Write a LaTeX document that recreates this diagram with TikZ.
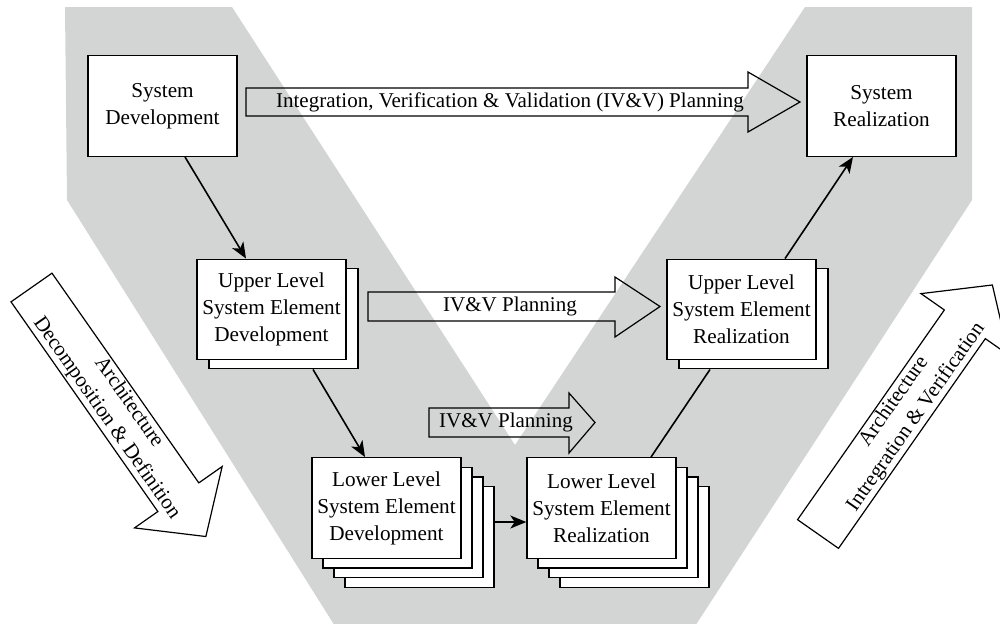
\documentclass[tikz,border=0pt]{standalone}
\usepackage{fontspec}
\setmainfont{Liberation Serif}
\usetikzlibrary{arrows.meta,calc}
\definecolor{vband}{RGB}{211,212,212}
\begin{document}
\begin{tikzpicture}[x=0.5pt,y=-0.5pt,
  box/.style={draw=black, fill=white, line width=0.7pt, minimum width=74.5pt,
    minimum height=50.25pt, inner sep=0pt, align=center,
    font=\fontsize{10.6}{13.5}\selectfont},
  conn/.style={line width=0.8pt, -{Stealth[length=8pt,width=6.5pt,inset=2.2pt]}},
  plainline/.style={line width=0.8pt},
  blockarrow/.style={draw=black, line width=0.6pt},
  lbl/.style={font=\fontsize{10.5}{13.5}\selectfont, align=center, inner sep=0pt}]
\useasboundingbox (0,0) rectangle (1000,623);
\clip (0,0) rectangle (1000,623);

% grey V band
\fill[vband] (65,7) -- (232,7) -- (515,445) -- (805,7) -- (972,7) -- (972,200)
  -- (679.5,650) -- (350,650) -- (67,200) -- cycle;

% IV&V planning block arrows (outline only)
\draw[blockarrow] (246,88) -- (748,88) -- (748,72) -- (800,102) -- (748,132)
  -- (748,116) -- (246,116) -- cycle;
\node[lbl] (ivvtop) at (510,102) {Integration, Verification \& Validation (IV\&V) Planning};

\draw[blockarrow] (368,292) -- (615,292) -- (615,277) -- (660,306.5) -- (615,337)
  -- (615,321) -- (368,321) -- cycle;
\node[lbl] (ivvmid) at (510,306.5) {IV\&V Planning};

\draw[blockarrow] (429,408) -- (569,408) -- (569,393) -- (595,422.5) -- (569,453)
  -- (569,437) -- (429,437) -- cycle;
\node[lbl] (ivvlow) at (506,422.5) {IV\&V Planning};

% decomposition arrow (left)
\begin{scope}[shift={(31.5,287.5)}, rotate=-55]
  \draw[blockarrow, fill=white] (0,-25) -- (256,-25) -- (256,-53.5) -- (304,0)
    -- (256,53.5) -- (256,25) -- (0,25) -- cycle;
  \node[lbl, transform shape] (decomp) at (150,0) {Architecture\\Decomposition \& Definition};
\end{scope}

% integration arrow (right)
\begin{scope}[shift={(818,534)}, rotate=55]
  \draw[blockarrow, fill=white] (0,-25) -- (256,-25) -- (256,-53.5) -- (304,0)
    -- (256,53.5) -- (256,25) -- (0,25) -- cycle;
  \node[lbl, transform shape] (integ) at (152,0) {Architecture\\Intregration \& Verification};
\end{scope}

% system level
\node[box] (sd) at (162.5,106) {System\\Development};
\node[box] (sr) at (881.5,106) {System\\Realization};

% upper level stacks
\node[box] (ud1) at (283.5,318.5) {};
\node[box] (ud) at (271.5,309.5) {Upper Level\\System Element\\Development};
\node[box] (ur1) at (753.5,318.5) {};
\node[box] (ur) at (741.5,309.5) {Upper Level\\System Element\\Realization};

% lower level stacks
\node[box] (ld3) at (419.5,537) {};
\node[box] (ld2) at (408.5,527.3) {};
\node[box] (ld1) at (397.5,517.6) {};
\node[box] (ld) at (386.5,508) {Lower Level\\System Element\\Development};
\node[box] (lr3) at (634.5,537) {};
\node[box] (lr2) at (623.5,527.3) {};
\node[box] (lr1) at (612.5,517.6) {};
\node[box] (lr) at (601.5,508) {Lower Level\\System Element\\Realization};

% flow connectors
\coordinate (lrin) at ($(lr.west)+(0,14)$);
\draw[conn] ($(sd.south)+(22.5,0)$) -- ($(ud.north)+(-25.5,0)$);
\draw[conn] ($(ud1.south)+(29.5,0)$) -- ($(ld.north)+(-21.5,0)$);
\draw[conn] (ld3.east |- lrin) -- (lrin);
\draw[plainline] ($(lr.north)+(49.5,0)$) -- ($(ur1.south)+(-43.5,0)$);
\draw[conn] ($(ur.north)+(43.5,0)$) -- ($(sr.south)+(-28.5,0)$);
\end{tikzpicture}
\end{document}
